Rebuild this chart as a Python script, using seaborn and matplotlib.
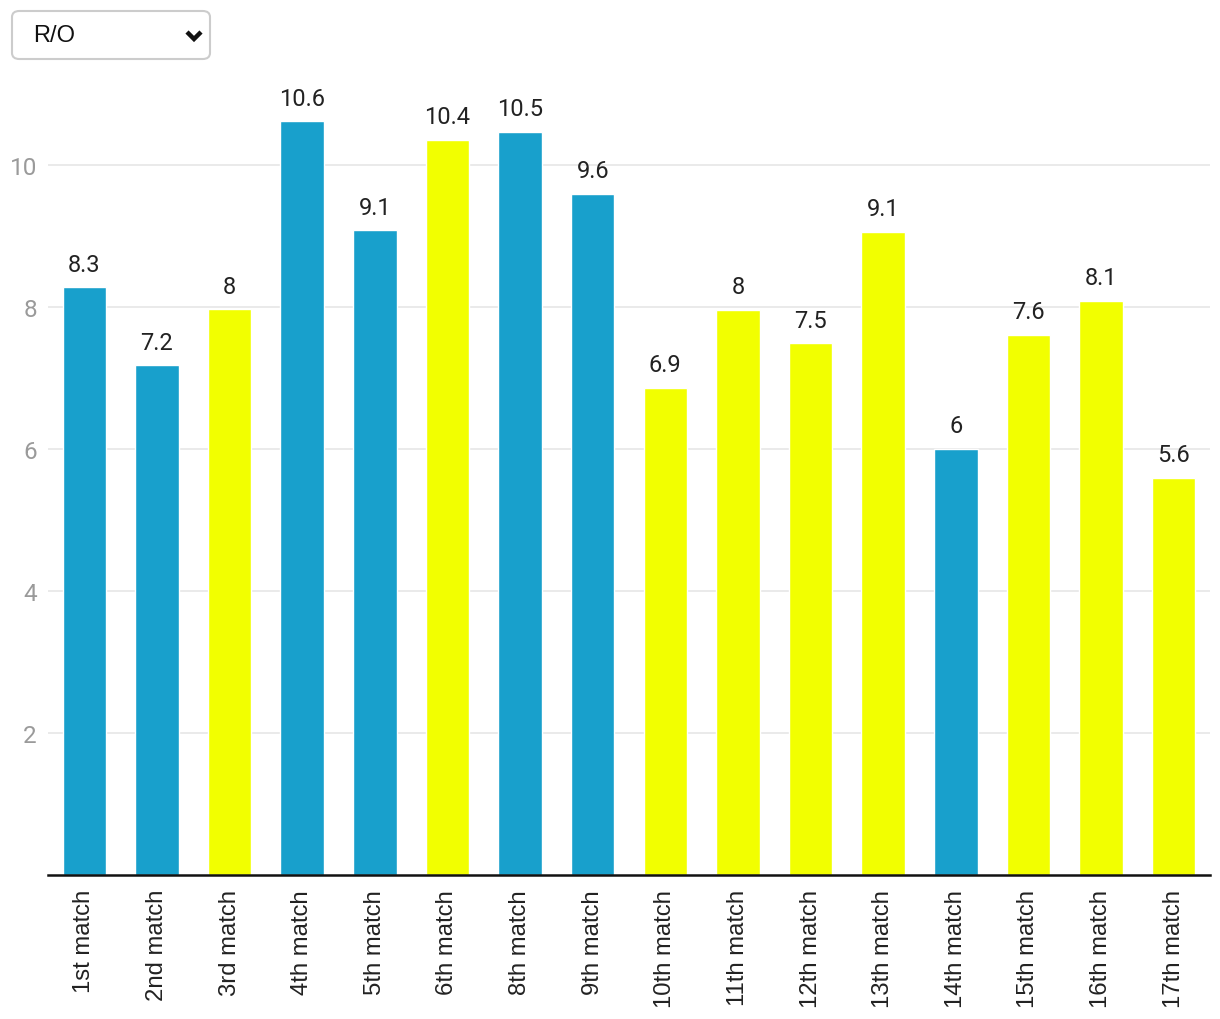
import matplotlib
matplotlib.use("Agg")
import matplotlib.pyplot as plt
import seaborn as sns
import pandas as pd
from matplotlib.patches import FancyBboxPatch

matches = ["1st match", "2nd match", "3rd match", "4th match", "5th match", "6th match",
           "8th match", "9th match", "10th match", "11th match", "12th match", "13th match",
           "14th match", "15th match", "16th match", "17th match"]
ro_values = [8.28, 7.18, 7.97, 10.62, 9.08, 10.36, 10.47, 9.6, 6.86, 7.96, 7.49, 9.06,
             6.0, 7.61, 8.09, 5.6]
value_labels = ["8.3", "7.2", "8", "10.6", "9.1", "10.4", "10.5", "9.6", "6.9", "8", "7.5",
                "9.1", "6", "7.6", "8.1", "5.6"]
teams = ["A", "A", "B", "A", "A", "B", "A", "A", "B", "B", "B", "B", "A", "B", "B", "B"]
palette = {"A": "#18A0CC", "B": "#F2FF00"}
y_ticks = [2, 4, 6, 8, 10]

sns.set_theme(style="white")
plt.rcParams["font.family"] = ["Roboto", "DejaVu Sans"]

df = pd.DataFrame({"match": matches, "ro": ro_values, "team": teams})

fig = plt.figure(figsize=(12.2, 10.2), dpi=100)
ax = fig.add_axes([48 / 1220, 144 / 1020, 1162 / 1220, (876 - 81) / 1020])

sns.barplot(data=df, x="match", y="ro", hue="team", palette=palette, dodge=False,
            width=0.6, legend=False, ax=ax, saturation=1, order=matches)

ax.set_xlim(-0.5, len(matches) - 0.5)
ax.set_ylim(0, 11.2)
ax.set_yticks(y_ticks)
ax.set_yticklabels([str(t) for t in y_ticks])
ax.set_xticks(range(len(matches)))
ax.set_xticklabels(matches, family=["Liberation Sans", "DejaVu Sans"], rotation=90,
                   fontsize=17.2, color="#222222")
ax.yaxis.grid(True, color="#e6e6e6", linewidth=1.2)
ax.set_axisbelow(True)
ax.set_xlabel("")
ax.set_ylabel("")
for s in ["left", "top", "right"]:
    ax.spines[s].set_visible(False)
ax.spines["bottom"].set_color("#111111")
ax.spines["bottom"].set_linewidth(1.8)
ax.tick_params(axis="y", length=0, pad=8, labelsize=17.5, labelcolor="#9a9a9a")
ax.tick_params(axis="x", length=0, pad=10)

for i, (v, lab) in enumerate(zip(ro_values, value_labels)):
    ax.annotate(lab, (i, v), xytext=(0, 12), textcoords="offset points",
                ha="center", va="baseline", fontsize=17, color="#222222")

# dropdown control
box = FancyBboxPatch((12 / 1220, 1 - 60 / 1020), 198 / 1220, 48 / 1020,
                     boxstyle="round,pad=0,rounding_size=0.006",
                     transform=fig.transFigure, facecolor="white",
                     edgecolor="#cccccc", linewidth=1.5)
fig.patches.append(box)
fig.text(33 / 1220, 1 - 36 / 1020, "R/O", fontsize=17, color="#111111",
         va="center", ha="left", family=["Liberation Sans", "DejaVu Sans"])
fig.lines.append(plt.Line2D([187 / 1220, 194 / 1220, 201 / 1220],
                            [1 - 33 / 1020, 1 - 40 / 1020, 1 - 33 / 1020],
                            transform=fig.transFigure, color="#111111",
                            linewidth=3.2, solid_capstyle="butt", solid_joinstyle="miter"))

fig.savefig("out.png", dpi=100)
